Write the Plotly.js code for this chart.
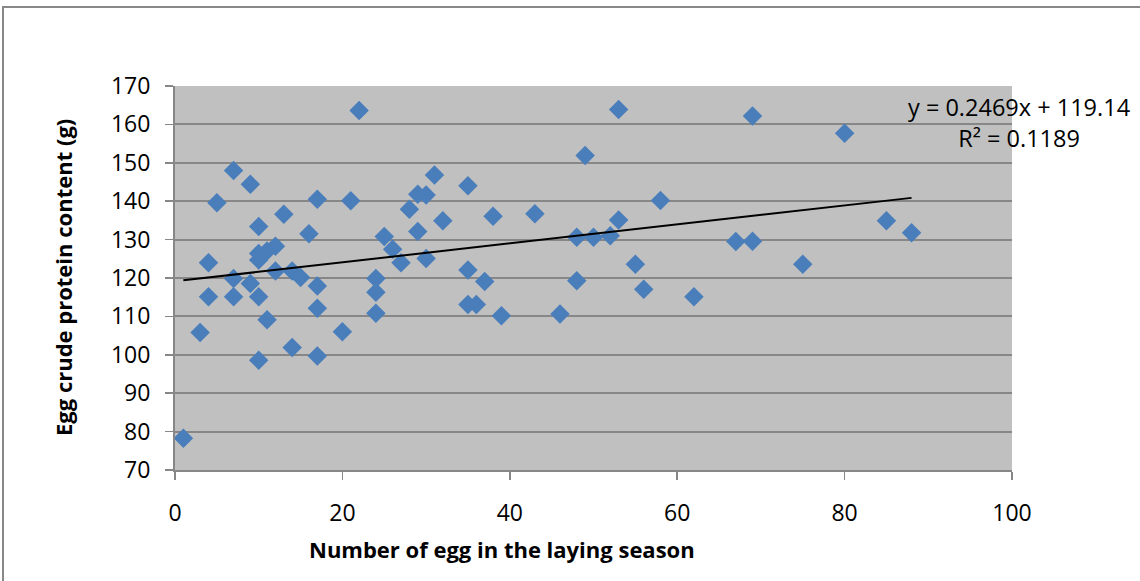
<!DOCTYPE html>
<html>
<head>
<meta charset="utf-8">
<script src="https://cdn.plot.ly/plotly-3.0.1.min.js"></script>
<style>
  html, body { margin: 0; padding: 0; background: #ffffff; }
  #chart { width: 1140px; height: 581px; }
</style>
</head>
<body>
<div id="chart"></div>
<script>
// Data
const eggCount = [1, 3, 4, 4, 5, 7, 7, 7, 9, 9, 10, 10, 10, 10, 10, 11, 11, 12, 12, 13,
  14, 14, 15, 16, 17, 17, 17, 17, 20, 21, 22, 24, 24, 24, 25, 26, 27, 28, 29, 29,
  30, 30, 31, 32, 35, 35, 35, 36, 37, 38, 39, 43, 46, 48, 48, 49, 50, 52, 53, 53,
  55, 56, 58, 62, 67, 69, 69, 75, 80, 85, 88];
const proteinContent = [78.3, 105.8, 124.0, 115.1, 139.6, 148.0, 119.9, 115.1, 144.4, 118.6,
  133.4, 126.4, 124.7, 115.1, 98.6, 127.0, 109.1, 128.3, 121.8, 136.6,
  121.8, 101.9, 120.1, 131.5, 140.5, 117.9, 112.1, 99.7, 106.0, 140.1,
  163.6, 119.9, 116.3, 110.8, 130.8, 127.5, 124.0, 137.9, 141.8, 132.1,
  141.6, 125.1, 146.8, 134.9, 144.0, 122.1, 113.1, 113.1, 119.1, 136.1,
  110.2, 136.7, 110.6, 130.6, 119.3, 151.9, 130.6, 131.0, 163.9, 135.1,
  123.6, 117.1, 140.2, 115.1, 129.5, 162.2, 129.6, 123.6, 157.7, 134.9, 131.8];
const trendSlope = 0.2469;
const trendIntercept = 119.14;
const rSquared = 0.1189;
const xTickValues = [0, 20, 40, 60, 80, 100];
const yTickValues = [70, 80, 90, 100, 110, 120, 130, 140, 150, 160, 170];
const xTitle = 'Number of egg in the laying season';
const yTitle = 'Egg crude protein content (g)';

const xMin = Math.min(...eggCount);
const xMax = Math.max(...eggCount);
const trendX = [xMin, xMax];
const trendY = trendX.map(v => trendSlope * v + trendIntercept);

const font = 'Open Sans, Lato, sans-serif';
const gridCol = '#878787';

const traces = [
  {
    x: eggCount, y: proteinContent, type: 'scatter', mode: 'markers',
    marker: { symbol: 'diamond', size: 15, color: '#4A7EBB', line: { width: 0 } },
    hoverinfo: 'x+y', showlegend: false
  },
  {
    x: trendX, y: trendY, type: 'scatter', mode: 'lines',
    line: { color: '#000000', width: 2 }, hoverinfo: 'skip', showlegend: false
  }
];

// Plot area: x 175..1012 px, y 86..470 px
const L = 175, R = 1140 - 1012, T = 86, B = 581 - 470;
const pw = 1012 - 175, ph = 470 - 86;
const px = v => (v - L) / pw;
const py = v => (470 - v) / ph;

const layout = {
  width: 1140, height: 581,
  margin: { l: L, r: R, t: T, b: B, pad: 0 },
  paper_bgcolor: '#ffffff',
  plot_bgcolor: '#C0C0C0',
  showlegend: false,
  xaxis: {
    range: [0, 100], tickvals: xTickValues, ticktext: xTickValues.map(String),
    showgrid: false, zeroline: false,
    showline: true, linecolor: gridCol, linewidth: 2,
    ticks: 'outside', ticklen: 8, tickwidth: 1.5, tickcolor: gridCol,
    ticklabelstandoff: 13,
    tickfont: { family: font, size: 23, color: '#000000' },
    fixedrange: true
  },
  yaxis: {
    range: [70, 170], tickvals: yTickValues, ticktext: yTickValues.map(String),
    showgrid: true, gridcolor: gridCol, gridwidth: 2, zeroline: false,
    showline: true, linecolor: gridCol, linewidth: 2,
    ticks: 'outside', ticklen: 8, tickwidth: 1.5, tickcolor: gridCol,
    ticklabelstandoff: 10,
    tickfont: { family: font, size: 23, color: '#000000' },
    fixedrange: true
  },
  annotations: [
    {
      xref: 'paper', yref: 'paper', x: px(502), y: py(549),
      xanchor: 'center', yanchor: 'middle', showarrow: false,
      text: '<b>' + xTitle + '</b>',
      font: { family: font, size: 22, color: '#000000' }
    },
    {
      xref: 'paper', yref: 'paper', x: px(63), y: py(278),
      xanchor: 'center', yanchor: 'middle', showarrow: false, textangle: -90,
      text: '<b>' + yTitle + '</b>',
      font: { family: font, size: 22, color: '#000000' }
    },
    {
      xref: 'paper', yref: 'paper', x: px(1019), y: py(122),
      xanchor: 'center', yanchor: 'middle', showarrow: false, align: 'center',
      text: 'y = ' + trendSlope + 'x + ' + trendIntercept + '<br>R² = ' + rSquared,
      font: { family: font, size: 23.5, color: '#000000' }
    }
  ],
  shapes: [
    {
      type: 'rect', xref: 'paper', yref: 'paper', layer: 'below',
      x0: px(3), x1: px(1150), y0: py(600), y1: py(7),
      line: { color: '#888888', width: 2 }, fillcolor: 'rgba(0,0,0,0)'
    }
  ]
};

Plotly.newPlot('chart', traces, layout, { displayModeBar: false, staticPlot: true });
</script>
</body>
</html>
